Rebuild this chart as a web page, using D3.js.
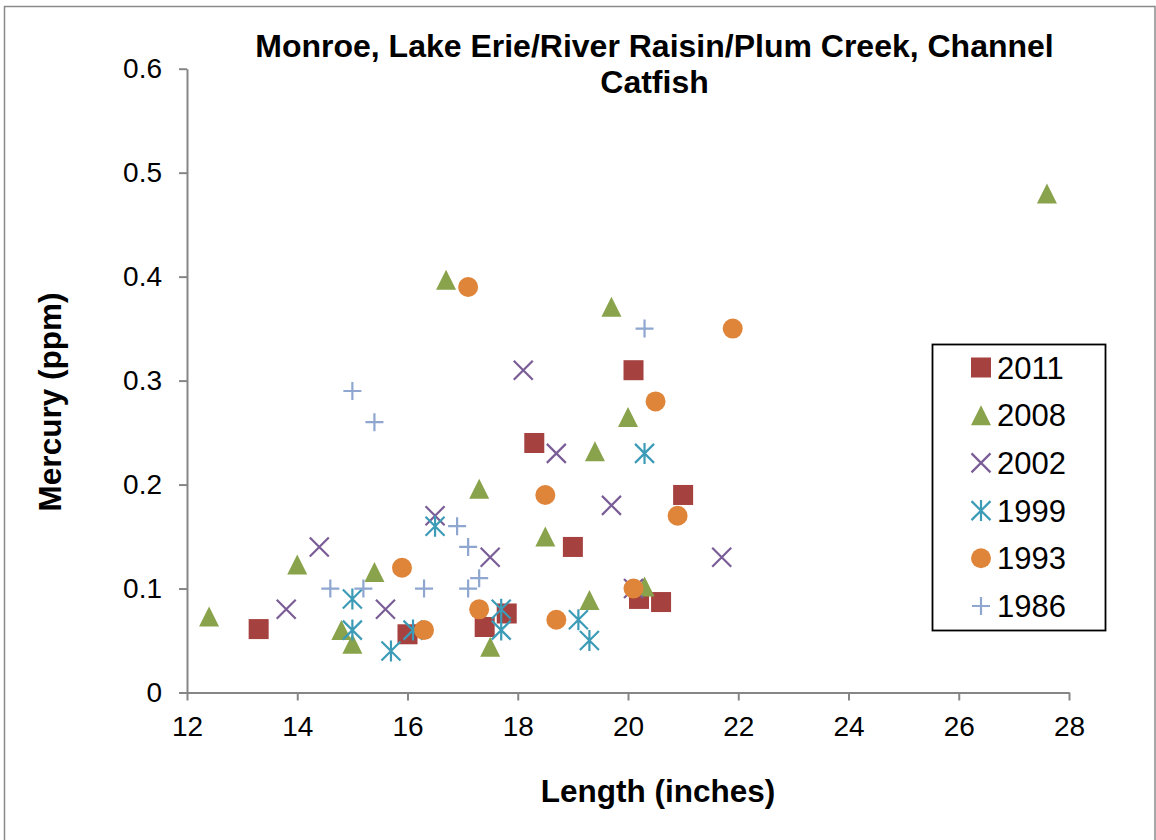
<!DOCTYPE html>
<html>
<head>
<meta charset="utf-8">
<script src="https://cdn.jsdelivr.net/npm/d3@7"></script>
<style>
  html, body { margin: 0; padding: 0; background: #fff; }
  svg { display: block; font-family: "Liberation Sans", Arial, sans-serif; }
</style>
</head>
<body>
<svg id="chart" width="1156" height="840"></svg>
<script>
// ---- Data ----
const title = ["Monroe, Lake Erie/River Raisin/Plum Creek, Channel", "Catfish"];
const xLabel = "Length (inches)";
const yLabel = "Mercury (ppm)";
const xTicks = [12, 14, 16, 18, 20, 22, 24, 26, 28];
const yTicks = [0, 0.1, 0.2, 0.3, 0.4, 0.5, 0.6];
const seriesNames = ["2011", "2008", "2002", "1999", "1993", "1986"];

const len2011 = [13.3, 16.0, 17.4, 17.8, 18.3, 19.0, 20.1, 20.2, 20.6, 21.0];
const hg2011  = [0.061, 0.056, 0.063, 0.076, 0.24, 0.14, 0.31, 0.09, 0.087, 0.19];

const len2008 = [12.4, 14.0, 14.8, 15.0, 15.4, 16.7, 17.3, 17.5, 18.5, 19.3, 19.4, 19.7, 20.0, 20.3, 27.6];
const hg2008  = [0.073, 0.123, 0.06, 0.047, 0.116, 0.397, 0.196, 0.044, 0.15, 0.089, 0.232, 0.371, 0.265, 0.102, 0.48];

const len2002 = [13.8, 14.4, 15.6, 16.5, 17.5, 18.1, 18.7, 19.7, 20.1, 21.7];
const hg2002  = [0.08, 0.14, 0.08, 0.17, 0.13, 0.31, 0.23, 0.18, 0.10, 0.13];

const len1999 = [15.0, 15.0, 15.7, 16.1, 16.5, 17.7, 17.7, 19.1, 19.3, 20.3];
const hg1999  = [0.09, 0.06, 0.04, 0.06, 0.16, 0.08, 0.06, 0.07, 0.05, 0.23];

const len1993 = [15.9, 16.3, 17.1, 17.3, 18.5, 18.7, 20.1, 20.5, 20.9, 21.9];
const hg1993  = [0.12, 0.06, 0.39, 0.08, 0.19, 0.07, 0.10, 0.28, 0.17, 0.35];

const len1986 = [14.6, 15.0, 15.2, 15.4, 16.3, 16.9, 17.1, 17.1, 17.3, 20.3];
const hg1986  = [0.10, 0.29, 0.10, 0.26, 0.10, 0.16, 0.14, 0.10, 0.11, 0.35];

// ---- Build series ----
const lens = [len2011, len2008, len2002, len1999, len1993, len1986];
const hgs  = [hg2011, hg2008, hg2002, hg1999, hg1993, hg1986];
const colors = ["#A5413E", "#88A34B", "#7A5D96", "#3C9BB6", "#DF853A", "#8EA6D0"];
const shapes = ["square", "triangle", "x", "star", "circle", "plus"];
const series = seriesNames.map((name, i) => ({
  name, color: colors[i], shape: shapes[i],
  points: lens[i].map((x, j) => ({ x, y: hgs[i][j] }))
}));

// ---- Layout ----
const svg = d3.select("#chart");
const plot = { left: 187, right: 1069, top: 68.7, bottom: 692.5 };
const x = d3.scaleLinear().domain([12, 28]).range([plot.left, plot.right]);
const y = d3.scaleLinear().domain([0, 0.6]).range([plot.bottom, plot.top]);
const axisColor = "#868686";

// outer border
svg.append("rect")
  .attr("x", 4.5).attr("y", 6.5).attr("width", 1150.5).attr("height", 845)
  .attr("fill", "none").attr("stroke", "#8a8a8a").attr("stroke-width", 1.5);

// title
svg.append("text")
  .attr("text-anchor", "middle").attr("font-weight", "bold").attr("font-size", 32)
  .selectAll("tspan").data(title).join("tspan")
  .attr("x", 654.5).attr("y", (d, i) => 57 + i * 36).text(d => d);

// axes
const fmt = d => d === 0 ? "0" : d3.format(".1f")(d);
const gy = svg.append("g").attr("transform", `translate(${plot.left},0)`)
  .call(d3.axisLeft(y).tickValues(yTicks).tickFormat(fmt).tickSize(8).tickSizeOuter(0).tickPadding(17));
const gx = svg.append("g").attr("transform", `translate(0,${plot.bottom})`)
  .call(d3.axisBottom(x).tickValues(xTicks).tickSize(8).tickSizeOuter(0).tickPadding(16));
[gx, gy].forEach(g => {
  g.select(".domain").attr("stroke", axisColor).attr("stroke-width", 2);
  g.selectAll(".tick line").attr("stroke", axisColor).attr("stroke-width", 2);
  g.selectAll(".tick text").attr("fill", "#000").attr("font-size", 28)
    .attr("font-family", "'Liberation Sans', Arial, sans-serif");
});

// axis titles
svg.append("text").attr("x", 658).attr("y", 801.7).attr("text-anchor", "middle")
  .attr("font-weight", "bold").attr("font-size", 31.5).text(xLabel);
svg.append("text").attr("transform", "translate(61,402) rotate(-90)").attr("text-anchor", "middle")
  .attr("font-weight", "bold").attr("font-size", 31.5).text(yLabel);

// marker drawing
function marker(g, shape, color) {
  const r = 10;
  if (shape === "square") {
    g.append("rect").attr("x", -r).attr("y", -r).attr("width", 2 * r).attr("height", 2 * r).attr("fill", color);
  } else if (shape === "triangle") {
    g.append("path").attr("d", `M0,${-r}L${r},${r}L${-r},${r}Z`).attr("fill", color);
  } else if (shape === "circle") {
    g.append("circle").attr("r", r).attr("fill", color);
  } else if (shape === "x") {
    const a = 9.5;
    g.append("path").attr("d", `M${-a},${-a}L${a},${a}M${-a},${a}L${a},${-a}`)
      .attr("stroke", color).attr("stroke-width", 2.2).attr("fill", "none");
  } else if (shape === "star") {
    const a = 9.5;
    g.append("path").attr("d", `M${-a},${-a}L${a},${a}M${-a},${a}L${a},${-a}M0,${-a - 1}L0,${a + 1}`)
      .attr("stroke", color).attr("stroke-width", 2.2).attr("fill", "none");
  } else if (shape === "plus") {
    const a = 9;
    g.append("path").attr("d", `M${-a},0L${a},0M0,${-a}L0,${a}`)
      .attr("stroke", color).attr("stroke-width", 2.2).attr("fill", "none");
  }
}

// points
series.forEach(s => {
  const gs = svg.append("g").attr("class", "series-" + s.name);
  s.points.forEach(p => {
    const g = gs.append("g").attr("transform", `translate(${x(p.x)},${y(p.y)})`);
    marker(g, s.shape, s.color);
  });
});

// legend
const lg = svg.append("g");
lg.append("rect").attr("x", 932.5).attr("y", 344.5).attr("width", 173).attr("height", 286)
  .attr("fill", "#fff").attr("stroke", "#000").attr("stroke-width", 1.8);
series.forEach((s, i) => {
  const cy = 367.5 + i * 47.7;
  const g = lg.append("g").attr("transform", `translate(981,${cy})`);
  marker(g, s.shape, s.color);
  lg.append("text").attr("x", 997).attr("y", cy + 11).attr("font-size", 31).attr("fill", "#000").text(s.name);
});
</script>
</body>
</html>
